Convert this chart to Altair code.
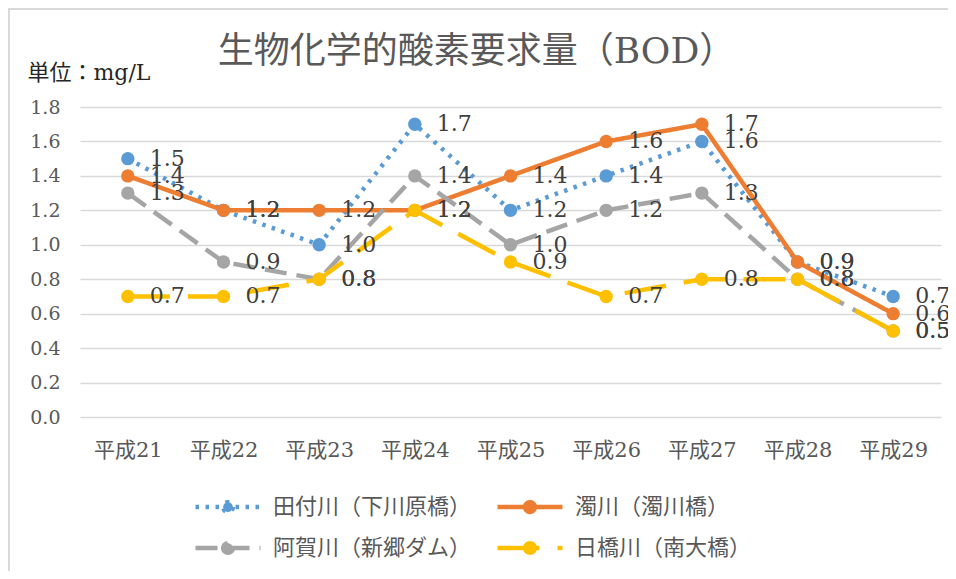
import altair as alt
import pandas as pd

years = ["平成21", "平成22", "平成23", "平成24", "平成25", "平成26", "平成27", "平成28", "平成29"]
series_names = ["田付川（下川原橋）", "濁川（濁川橋）", "阿賀川（新郷ダム）", "日橋川（南大橋）"]
tatsuki = [1.5, 1.2, 1.0, 1.7, 1.2, 1.4, 1.6, 0.9, 0.7]
nigori = [1.4, 1.2, 1.2, 1.2, 1.4, 1.6, 1.7, 0.9, 0.6]
aga = [1.3, 0.9, 0.8, 1.4, 1.0, 1.2, 1.3, 0.8, 0.5]
nippashi = [0.7, 0.7, 0.8, 1.2, 0.9, 0.7, 0.8, 0.8, 0.5]
y_ticks = [0.0, 0.2, 0.4, 0.6, 0.8, 1.0, 1.2, 1.4, 1.6, 1.8]

colors = ["#5B9BD5", "#ED7D31", "#A5A5A5", "#FFC000"]
dashes = [[3.5, 6.5], [1, 0], [22, 10], [42, 18]]

rows = []
for name, vals in zip(series_names, [tatsuki, nigori, aga, nippashi]):
    for yr, v in zip(years, vals):
        rows.append({"year": yr, "series": name, "value": v})
df = pd.DataFrame(rows)

SERIF = "'DejaVu Serif', 'Noto Sans CJK JP'"
SANS = "'Noto Sans CJK JP'"

# legend symbol: a line with a filled circle in the middle
LEGEND_SYMBOL = "M-4,0L4,0M0.6,0A0.6,0.6,0,1,1,-0.6,0A0.6,0.6,0,1,1,0.6,0Z"

x_enc = alt.X("year:N", sort=years, scale=alt.Scale(domain=years, padding=0.5),
              axis=alt.Axis(title=None, labelAngle=0, ticks=False, domain=False,
                            labelPadding=22, labelFont=SERIF, labelFontSize=21,
                            labelColor="#595959", grid=False))
y_enc = alt.Y("value:Q", scale=alt.Scale(domain=[0, 1.8], nice=False),
              axis=alt.Axis(values=y_ticks, format=".1f", title="単位：mg/L",
                            titleAngle=0, titleX=-53, titleY=-35, titleAlign="left",
                            titleBaseline="middle", titleFont=SERIF, titleFontSize=22,
                            titleFontWeight="normal", titleColor="#262626",
                            ticks=False, domain=False, labelPadding=20,
                            labelFont=SERIF, labelFontSize=19, labelColor="#595959",
                            gridColor="#D9D9D9", gridWidth=1.5))
color_enc = alt.Color("series:N", scale=alt.Scale(domain=series_names, range=colors),
                      legend=alt.Legend(title=None, orient="none", legendX=137, legendY=389,
                                        direction="horizontal", columns=2,
                                        columnPadding=16, rowPadding=13,
                                        symbolType=LEGEND_SYMBOL,
                                        symbolSize=264, symbolStrokeWidth=4.5,
                                        labelFont=SANS, labelFontSize=22, labelColor="#595959",
                                        labelOffset=34, labelLimit=0))
dash_enc = alt.StrokeDash("series:N", scale=alt.Scale(domain=series_names, range=dashes),
                          legend=None)

base = alt.Chart(df)
lines = base.mark_line(strokeWidth=4.5).encode(
    x=x_enc, y=y_enc, color=color_enc, strokeDash=dash_enc, detail="series:N")
points = base.mark_circle(size=180, opacity=1).encode(
    x=x_enc, y=y_enc, color=color_enc)
labels = base.mark_text(align="left", baseline="middle", dx=22, font=SERIF,
                        fontSize=22, color="#404040").encode(
    x=x_enc, y=y_enc, text=alt.Text("value:Q", format=".1f"))

frame_df = pd.DataFrame({"k": [0]})
border_top = alt.Chart(frame_df).mark_rule(stroke="#D9D9D9", strokeWidth=2).encode(
    x=alt.value(-72), x2=alt.value(1000), y=alt.value(-98))
border_left = alt.Chart(frame_df).mark_rule(stroke="#D9D9D9", strokeWidth=2).encode(
    x=alt.value(-71), y=alt.value(-99), y2=alt.value(600))

chart = alt.layer(border_top, border_left, lines, points, labels).properties(
    width=861, height=310,
    padding={"left": 72, "top": 99, "right": 7, "bottom": 154},
    autosize=alt.AutoSizeParams(type="none"),
    title=alt.Title("生物化学的酸素要求量（BOD）", font=SERIF, fontSize=36,
                    fontWeight="normal", color="#595959", anchor="middle",
                    frame="group", dx=-34, dy=64, offset=0),
).configure_view(stroke=None)

chart.save("out.html", embed_options={"renderer": "svg", "actions": False})
